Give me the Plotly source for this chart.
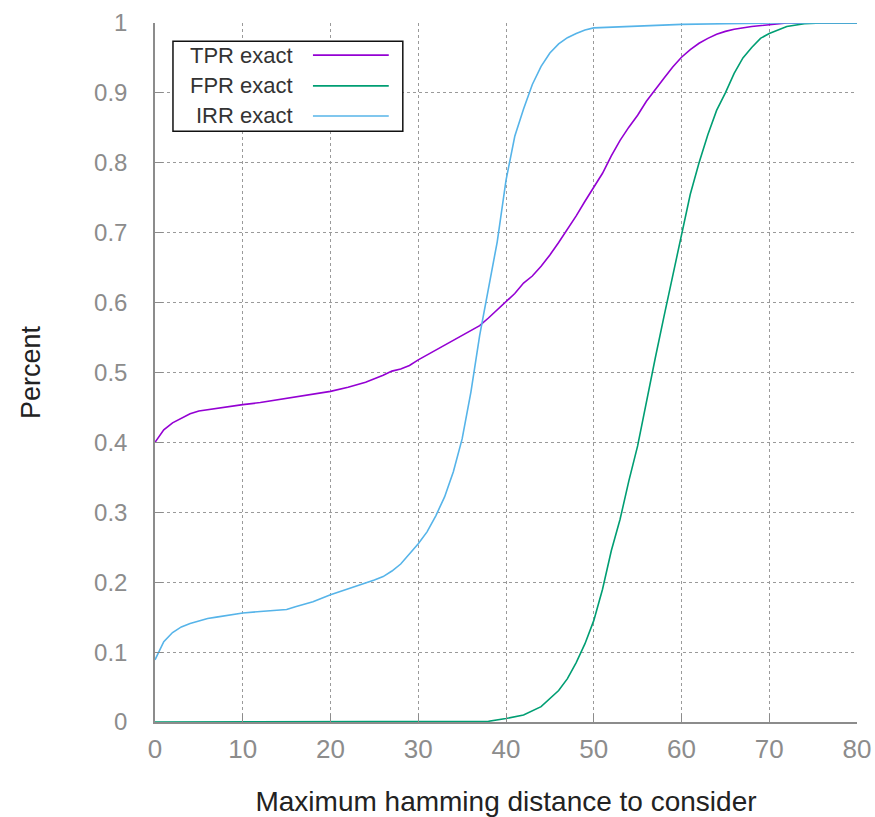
import plotly.graph_objects as go

# ---- data ----
tpr_x = [0, 1, 2, 3, 4, 5, 6, 7, 8, 10, 12, 14, 16, 18, 20, 22, 24, 26, 27, 28,
         29, 30, 31, 32, 33, 34, 35, 36, 37, 38, 39, 40, 41, 42, 43, 44, 45, 46,
         47, 48, 49, 50, 51, 52, 53, 54, 55, 56, 57, 58, 59, 60, 61, 62, 63, 64,
         65, 66, 68, 70, 72, 80]
tpr_y = [0.400, 0.418, 0.428, 0.435, 0.441, 0.445, 0.447, 0.449, 0.450, 0.454,
         0.457, 0.461, 0.464, 0.468, 0.473, 0.479, 0.486, 0.496, 0.502, 0.505,
         0.510, 0.518, 0.525, 0.532, 0.540, 0.547, 0.553, 0.560, 0.567, 0.578,
         0.590, 0.602, 0.613, 0.628, 0.638, 0.652, 0.668, 0.686, 0.705, 0.724,
         0.745, 0.766, 0.785, 0.810, 0.832, 0.851, 0.868, 0.888, 0.905, 0.921,
         0.937, 0.951, 0.962, 0.971, 0.978, 0.984, 0.988, 0.991, 0.995, 0.998,
         1.000, 1.000]

fpr_x = [0, 36, 38, 40, 42, 44, 46, 47, 48, 49, 50, 51, 52, 53, 54, 55, 56, 57,
         58, 59, 60, 61, 62, 63, 64, 65, 66, 67, 68, 69, 70, 72, 74, 76, 80]
fpr_y = [0.0, 0.0, 0.001, 0.005, 0.010, 0.022, 0.045, 0.062, 0.085, 0.112,
         0.145, 0.190, 0.245, 0.290, 0.345, 0.395, 0.460, 0.520, 0.580, 0.640,
         0.700, 0.755, 0.800, 0.840, 0.875, 0.900, 0.928, 0.950, 0.965, 0.978,
         0.985, 0.995, 0.999, 1.000, 1.000]

irr_x = [0, 1, 2, 3, 4, 5, 6, 7, 8, 10, 12, 14, 15, 16, 18, 20, 22, 24, 25, 26,
         27, 28, 29, 30, 31, 32, 33, 34, 35, 36, 37, 38, 39, 40, 41, 42, 43, 44,
         45, 46, 47, 48, 49, 50, 55, 60, 65, 70, 80]
irr_y = [0.089, 0.115, 0.128, 0.136, 0.141, 0.145, 0.148, 0.150, 0.152, 0.156,
         0.158, 0.160, 0.161, 0.165, 0.172, 0.182, 0.190, 0.198, 0.203, 0.208,
         0.216, 0.226, 0.240, 0.255, 0.272, 0.295, 0.322, 0.358, 0.405, 0.472,
         0.553, 0.622, 0.687, 0.775, 0.838, 0.877, 0.912, 0.938, 0.957, 0.970,
         0.979, 0.985, 0.990, 0.993, 0.996, 0.998, 0.999, 1.000, 1.000]

series_names = ["TPR exact", "FPR exact", "IRR exact"]
series_colors = ["#9400d3", "#009e73", "#56b4e9"]
x_ticks = [0, 10, 20, 30, 40, 50, 60, 70, 80]
y_ticks = [0, 0.1, 0.2, 0.3, 0.4, 0.5, 0.6, 0.7, 0.8, 0.9, 1]

FONT = "Liberation Sans, Arial, sans-serif"

fig = go.Figure()
for name, xs, ys, col in zip(series_names, [tpr_x, fpr_x, irr_x],
                             [tpr_y, fpr_y, irr_y], series_colors):
    fig.add_trace(go.Scatter(x=xs, y=ys, mode="lines", name=name,
                             line=dict(color=col, width=1.6),
                             showlegend=False))

# gnuplot-style legend: box, right-justified text, sample line on the right
fig.add_shape(type="rect", xref="paper", yref="paper",
              x0=0.0256, x1=0.353, y0=0.845, y1=0.974,
              line=dict(color="#111111", width=1.5),
              fillcolor="white", layer="above")
legend_rows = [0.954, 0.910, 0.867]
for name, col, yr in zip(series_names, series_colors, legend_rows):
    fig.add_annotation(xref="paper", yref="paper", x=0.200, y=yr,
                       text=name, showarrow=False, xanchor="right",
                       yanchor="middle",
                       font=dict(family=FONT, size=22, color="#333333"))
    fig.add_shape(type="line", xref="paper", yref="paper",
                  x0=0.225, x1=0.333, y0=yr, y1=yr,
                  line=dict(color=col, width=1.6), layer="above")

axis_common = dict(
    showgrid=True, gridcolor="#9a9a9a", gridwidth=1, griddash="3px,3px",
    showline=True, linecolor="#8c8c8c", linewidth=1.5,
    ticks="inside", ticklen=8, tickcolor="#8c8c8c", tickwidth=1.2,
    zeroline=False, automargin=False,
)

fig.update_xaxes(range=[0, 80], tickvals=x_ticks,
                 tickfont=dict(family=FONT, size=26, color="#8c8c8c"),
                 ticklabelstandoff=3,
                 title=dict(text="Maximum hamming distance to consider",
                            font=dict(family=FONT, size=28, color="#222222"),
                            standoff=28),
                 **axis_common)
fig.update_yaxes(range=[0, 1], tickvals=y_ticks,
                 tickfont=dict(family=FONT, size=24, color="#8c8c8c"),
                 ticklabelstandoff=21,
                 title=dict(text="Percent",
                            font=dict(family=FONT, size=27, color="#222222"),
                            standoff=46),
                 **axis_common)

fig.update_layout(
    width=875, height=817,
    margin=dict(l=155, r=18, t=23, b=95),
    plot_bgcolor="white", paper_bgcolor="white",
    showlegend=False,
)

# remove the page's default body margin and scrollbars so the figure fills the window
fig.write_html(
    "out.html",
    config={"displayModeBar": False},
    post_script=(
        "document.body.style.margin='0';"
        "document.documentElement.style.overflow='hidden';"
        "document.body.style.overflow='hidden';"
    ),
)
